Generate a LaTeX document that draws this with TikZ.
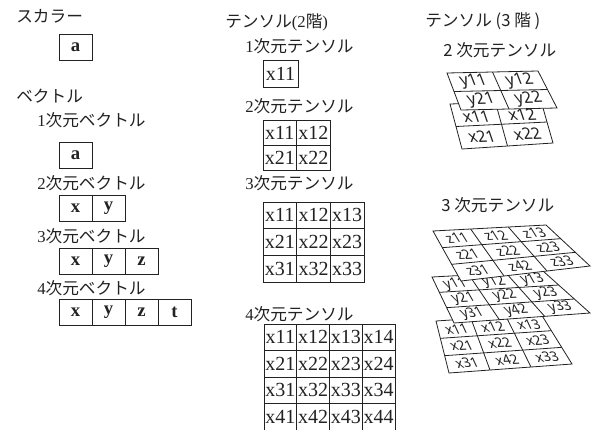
\documentclass[tikz,border=0pt]{standalone}
\usepackage{fontspec}
\setmainfont{Liberation Serif}
\newfontfamily\jp{Noto Sans CJK JP}
\newfontfamily\lsans{Noto Sans}
\usetikzlibrary{calc}
\definecolor{ink}{HTML}{222222}
\newcommand{\drawlayer}[7]{%
  \path[layerline] (#1TL) -- (#1TR) -- (#1BR) -- (#1BL) -- cycle;
  \pgfmathtruncatemacro{\lyrlast}{#2-1}%
  \foreach \k in {1,...,\lyrlast}{%
    \draw[ink, line width=0.6pt] ($(#1TL)!{\k/#2}!(#1TR)$) -- ($(#1BL)!{\k/#2}!(#1BR)$);
    \draw[ink, line width=0.6pt] ($(#1TL)!{\k/#2}!(#1BL)$) -- ($(#1TR)!{\k/#2}!(#1BR)$);
  }
  \foreach \ri/\ci/\lbl in {#6}{%
    \pgfmathsetmacro{\lyrrow}{(\ri-0.5+(\ri==1)*#7)/#2}%
    \coordinate (#1p) at ($(#1TL)!{(\ci-0.5)/#2}!(#1TR)$);
    \coordinate (#1q) at ($(#1BL)!{(\ci-0.5)/#2}!(#1BR)$);
    \node[lcell=#5, rotate=#4, xslant=#3] (#1-\ri\ci) at ($(#1p)!\lyrrow!(#1q)$) {\lbl};
  }
}
\begin{document}
\begin{tikzpicture}[x=0.75pt,y=-0.75pt,
  lbl/.style={anchor=west, inner sep=0pt, text=ink, font=\fontsize{12.5}{15}\selectfont},
  vcell/.style={draw=ink, line width=0.6pt, inner sep=0pt, minimum width=24.75pt, minimum height=19.5pt, text=ink, font=\fontsize{14}{14}\selectfont\bfseries},
  tcell/.style={draw=ink, line width=0.6pt, inner sep=0pt, text=ink, font=\fontsize{15}{15}\selectfont},
  layerline/.style={draw=ink, line width=0.6pt, fill=white},
  lcell/.style={inner sep=0pt, text=ink, font=\lsans\fontsize{#1}{#1}\selectfont}
]
\fill[white] (0,0) rectangle (592,429);
\useasboundingbox (0,0) rectangle (592,429);
\clip (0,0) rectangle (592,429);

% ---------- scalar and vectors ----------
\node[lbl] (scalar) at (16,16) {\jp スカラー};
\node[vcell] (s-a) at (75.5,47.5) {a};
\node[lbl] (vec) at (16,96) {\jp ベクトル};
\node[lbl] (v1l) at (37,120) {1{\jp 次元ベクトル}};
\node[vcell] (v1-1) at (75.5,155.5) {a};
\node[lbl] (v2l) at (37,183) {2{\jp 次元ベクトル}};
\foreach \i/\t in {1/x,2/y}
  \node[vcell] (v2-\i) at ({59+33*(\i-0.5)},208) {\t};
\node[lbl] (v3l) at (37,236) {3{\jp 次元ベクトル}};
\foreach \i/\t in {1/x,2/y,3/z}
  \node[vcell] (v3-\i) at ({59+33*(\i-0.5)},261) {\t};
\node[lbl] (v4l) at (37,288) {4{\jp 次元ベクトル}};
\foreach \i/\t in {1/x,2/y,3/z,4/t}
  \node[vcell] (v4-\i) at ({59+33*(\i-0.5)},312.5) {\t};

% ---------- 2nd order tensors ----------
\node[lbl] (t2) at (225,22) {{\jp テンソル}(2{\jp 階})};
\node[lbl] (t1l) at (245,46) {1{\jp 次元テンソル}};
\node[tcell, minimum width=26.25pt, minimum height=20.25pt] (m1-11) at (280.5,73.5) {x11};
\node[lbl] (t2l) at (245,106) {2{\jp 次元テンソル}};
\foreach \r in {1,2} \foreach \c in {1,2}
  \node[tcell, minimum width=25.125pt, minimum height=18.75pt] (m2-\r\c)
    at ({263+33.5*(\c-0.5)},{120+25*(\r-0.5)}) {x\r\c};
\node[lbl] (t3l) at (245,183) {3{\jp 次元テンソル}};
\foreach \r in {1,2,3} \foreach \c in {1,2,3}
  \node[tcell, minimum width=25.25pt, minimum height=20pt] (m3-\r\c)
    at ({263+33.67*(\c-0.5)},{202+26.67*(\r-0.5)}) {x\r\c};
\node[lbl] (t4l) at (245,314) {4{\jp 次元テンソル}};
\foreach \r in {1,2,3,4} \foreach \c in {1,2,3,4}
  \node[tcell, minimum width=24.56pt, minimum height=19.875pt] (m4-\r\c)
    at ({264+32.75*(\c-0.5)},{324+26.5*(\r-0.5)}) {x\r\c};

% ---------- 3rd order tensors ----------
\node[lbl] (t3) at (425,21) {\jp テンソル (3 階 )};
\node[lbl] (t32l) at (443,50) {\jp 2 次元テンソル};
\node[lbl] (t33l) at (441,205) {\jp 3 次元テンソル};

% 2x2x2
\coordinate (aTL) at (450,104); \coordinate (aTR) at (541,101);
\coordinate (aBR) at (553,143); \coordinate (aBL) at (462,149);
\drawlayer{a}{2}{-0.3}{2}{12}{1/1/x11,1/2/x12,2/1/x21,2/2/x22}{0.1}
\coordinate (bTL) at (447,73); \coordinate (bTR) at (538,71);
\coordinate (bBR) at (557,108); \coordinate (bBL) at (461,110);
\drawlayer{b}{2}{-0.35}{2}{12}{1/1/y11,1/2/y12,2/1/y21,2/2/y22}{0}

% 3x3x3
\coordinate (cTL) at (436,321); \coordinate (cTR) at (541,314);
\coordinate (cBR) at (572,364); \coordinate (cBL) at (449,373);
\drawlayer{c}{3}{-0.4}{3}{10}{1/1/x11,1/2/x12,1/3/x13,2/1/x21,2/2/x22,2/3/x23,3/1/x31,3/2/x42,3/3/x33}{0.06}
\coordinate (dTL) at (432,277); \coordinate (dTR) at (543,271);
\coordinate (dBR) at (590,313); \coordinate (dBL) at (454,323);
\drawlayer{d}{3}{-0.5}{3}{10}{1/1/y11,1/2/y12,1/3/y13,2/1/y21,2/2/y22,2/3/y23,3/1/y31,3/2/y42,3/3/y33}{0.06}
\coordinate (eTL) at (433,231); \coordinate (eTR) at (546,225);
\coordinate (eBR) at (590,266); \coordinate (eBL) at (461,281);
\drawlayer{e}{3}{-0.55}{3}{10}{1/1/z11,1/2/z12,1/3/z13,2/1/z21,2/2/z22,2/3/z23,3/1/z31,3/2/z42,3/3/z33}{0}
\end{tikzpicture}
\end{document}
